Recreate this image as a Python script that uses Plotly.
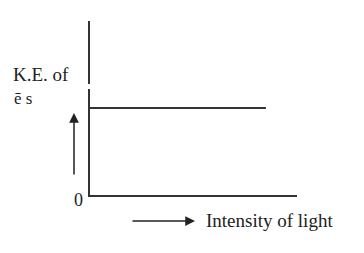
import plotly.graph_objects as go

# Data: K.E. of photoelectrons is independent of light intensity
intensity = [0, 8.5]
kinetic_energy = [5, 5]

x_label = "Intensity of light"
y_label_1 = "K.E. of"
y_label_2 = "ē s"
origin_label = "0"

W, H = 364, 253
L, R, T, B = 90, 67, 21, 58
pw, ph = W - L - R, H - T - B

def px(x):
    return (x - L) / pw

def py(y):
    return (H - B - y) / ph

FONT = "Liberation Serif"
LC = "#333333"

fig = go.Figure()
fig.add_trace(go.Scatter(x=intensity, y=kinetic_energy, mode="lines",
                         line=dict(color=LC, width=2), showlegend=False,
                         hoverinfo="skip"))

fig.update_xaxes(range=[0, 10], showline=True, linecolor=LC, linewidth=2,
                 showgrid=False, zeroline=False, showticklabels=False, ticks="")
fig.update_yaxes(range=[0, 10], showline=True, linecolor=LC, linewidth=2,
                 showgrid=False, zeroline=False, showticklabels=False, ticks="")

ann = []
ann.append(dict(text=y_label_1, x=px(11), y=py(74), xref="paper", yref="paper",
                xanchor="left", yanchor="middle", showarrow=False,
                font=dict(family=FONT, size=19, color="#222")))
ann.append(dict(text=y_label_2, x=px(12), y=py(98), xref="paper", yref="paper",
                xanchor="left", yanchor="middle", showarrow=False,
                font=dict(family=FONT, size=17, color="#222")))
ann.append(dict(text=origin_label, x=px(78), y=py(200), xref="paper", yref="paper",
                xanchor="center", yanchor="middle", showarrow=False,
                font=dict(family=FONT, size=18, color="#222")))
ann.append(dict(text=x_label, x=px(204), y=py(220), xref="paper", yref="paper",
                xanchor="left", yanchor="middle", showarrow=False,
                font=dict(family=FONT, size=19, color="#222")))
# up arrow
ann.append(dict(text="", x=px(74), y=py(113), xref="paper", yref="paper",
                ax=0, ay=63, showarrow=True, arrowhead=2, arrowsize=1.3,
                arrowwidth=1.5, arrowcolor="#222"))
# right arrow
ann.append(dict(text="", x=px(195), y=py(221), xref="paper", yref="paper",
                ax=-64, ay=0, showarrow=True, arrowhead=2, arrowsize=1.3,
                arrowwidth=1.5, arrowcolor="#222"))

fig.update_layout(
    width=W, height=H,
    margin=dict(l=L, r=R, t=T, b=B),
    paper_bgcolor="white", plot_bgcolor="white",
    annotations=ann,
    shapes=[dict(type="rect", xref="paper", yref="paper",
                 x0=px(86), x1=px(93), y0=py(89), y1=py(84),
                 fillcolor="white", line=dict(width=0), layer="above")],
)

fig.write_html("out.html")
